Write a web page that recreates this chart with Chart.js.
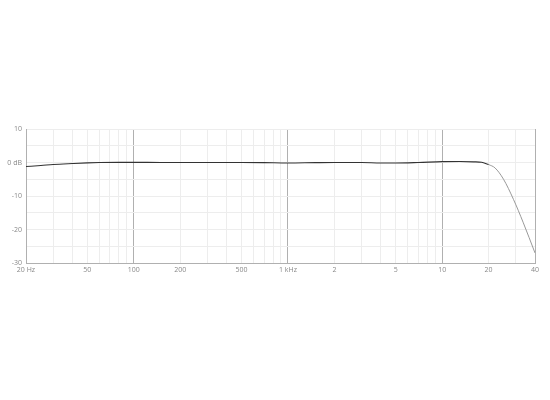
<!DOCTYPE html>
<html>
<head>
<meta charset="utf-8">
<script src="https://cdn.jsdelivr.net/npm/chart.js@4"></script>
<style>
html,body{margin:0;padding:0;background:#fff;}
#wrap{width:550px;height:400px;position:relative;}
</style>
</head>
<body>
<div id="wrap"><canvas id="c"></canvas></div>
<script>
// Frequency response data (Hz, dB)
const freqMain = [20, 25, 30, 40, 50, 60, 80, 100, 150, 200, 300, 500, 700, 1000, 1500, 2000, 3000, 4000, 5000, 7000, 10000, 13000, 16000, 18000, 20000];
const dbMain   = [-1.2, -0.9, -0.6, -0.3, -0.1, 0, 0.05, 0.05, 0, 0, 0, 0, -0.05, -0.15, -0.05, 0, 0, -0.15, -0.15, 0, 0.25, 0.3, 0.2, 0.05, -0.6];
const freqRoll = [20000, 22000, 25000, 29000, 33600, 40000];
const dbRoll   = [-0.6, -1.6, -5, -11, -18, -27];

const xGridValues = [20,30,40,50,60,70,80,90,100,200,300,400,500,600,700,800,900,1000,2000,3000,4000,5000,6000,7000,8000,9000,10000,20000,30000,40000];
const xMajor = [100, 1000, 10000, 40000];
const xLabels = {20:'20 Hz', 50:'50', 100:'100', 200:'200', 500:'500', 1000:'1 kHz', 2000:'2', 5000:'5', 10000:'10', 20000:'20', 40000:'40'};
const yLabels = {10:'10', 0:'0 dB', '-10':'-10', '-20':'-20', '-30':'-30'};

const font = {family:'"Open Sans", "DejaVu Sans", sans-serif', size:7};

new Chart(document.getElementById('c'), {
  type: 'line',
  data: {
    datasets: [
      {
        data: freqMain.map((f,i)=>({x:f, y:dbMain[i]})),
        borderColor: '#333333',
        borderWidth: 1.1,
        pointRadius: 0,
        cubicInterpolationMode: 'monotone',
        fill: false
      },
      {
        data: freqRoll.map((f,i)=>({x:f, y:dbRoll[i]})),
        borderColor: '#999999',
        borderWidth: 1,
        pointRadius: 0,
        cubicInterpolationMode: 'monotone',
        fill: false
      }
    ]
  },
  options: {
    responsive: true,
    maintainAspectRatio: false,
    animation: false,
    layout: {padding: {top: 129, right: 15, left: 0, bottom: 0}},
    plugins: {legend: {display: false}, tooltip: {enabled: false}},
    scales: {
      x: {
        type: 'logarithmic',
        min: 20,
        max: 40000,
        afterBuildTicks: (s) => { s.ticks = xGridValues.map(v => ({value: v})); },
        afterFit: (s) => { s.height = 137; },
        ticks: {
          autoSkip: false,
          maxRotation: 0,
          padding: 3,
          color: '#888',
          font: font,
          callback: (v) => xLabels[v] !== undefined ? xLabels[v] : ''
        },
        grid: {
          drawTicks: false,
          color: (ctx) => (ctx.tick && xMajor.includes(ctx.tick.value)) ? '#b0b0b0' : '#ededed',
          lineWidth: 1
        },
        border: {color: '#b0b0b0', width: 1}
      },
      y: {
        min: -30,
        max: 10,
        afterBuildTicks: (s) => { s.ticks = [10,5,0,-5,-10,-15,-20,-25,-30].map(v => ({value: v})); },
        afterFit: (s) => { s.width = 26; },
        ticks: {
          autoSkip: false,
          padding: 4,
          color: '#888',
          font: font,
          callback: (v) => yLabels[v] !== undefined ? yLabels[v] : ''
        },
        grid: {
          drawTicks: false,
          color: '#ededed',
          lineWidth: 1
        },
        border: {color: '#b0b0b0', width: 1}
      }
    }
  }
});
</script>
</body>
</html>
